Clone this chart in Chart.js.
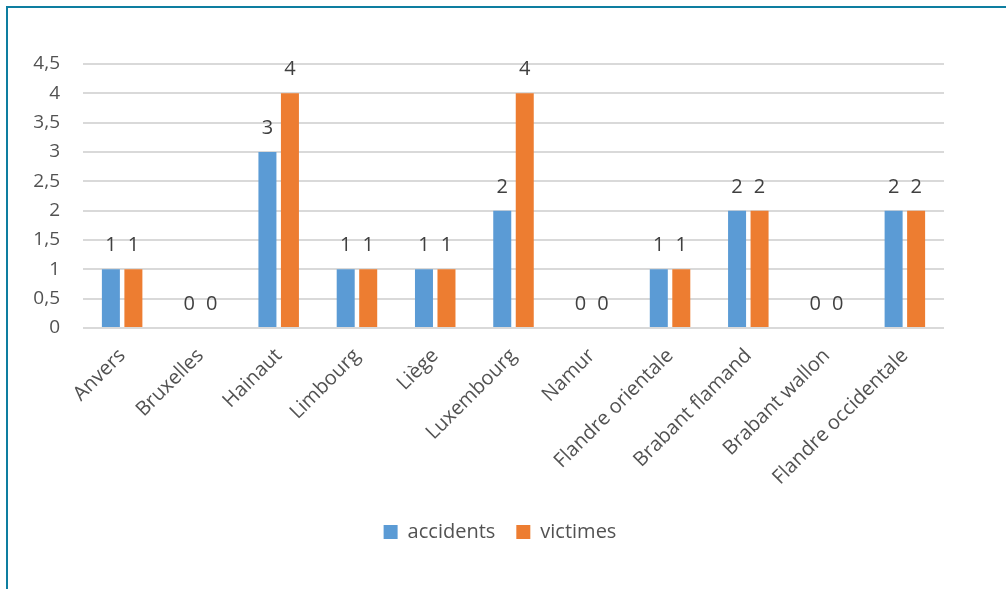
<!DOCTYPE html>
<html lang="fr">
<head>
    <meta charset="UTF-8">
    <title>Accidents et victimes par province</title>
    <script src="https://cdn.jsdelivr.net/npm/chart.js"></script>
    <style>
        body {
            margin: 0;
            background: #ffffff;
            font-family: "Open Sans", sans-serif;
        }

        .frame {
            position: absolute;
            left: 6px;
            top: 6px;
            width: 998px;
            height: 581px;
            border-left: 2px solid #0e7ea0;
            border-top: 2px solid #0e7ea0;
        }

        canvas#provinceChart {
            display: block;
        }
    </style>
</head>
<body>
    <div class="frame">
        <canvas id="provinceChart" width="998" height="581"></canvas>
    </div>

    <script>
        const provinces = ['Anvers', 'Bruxelles', 'Hainaut', 'Limbourg', 'Liège', 'Luxembourg',
            'Namur', 'Flandre orientale', 'Brabant flamand', 'Brabant wallon', 'Flandre occidentale'];
        const accidents = [1, 0, 3, 1, 1, 2, 0, 1, 2, 0, 2];
        const victimes = [1, 0, 4, 1, 1, 4, 0, 1, 2, 0, 2];

        const textColor = '#525252';

        // numbers written with a decimal comma on the value axis
        const formatValue = v => String(v).replace('.', ',');

        // value written above each bar (zero included)
        const barValues = {
            id: 'barValues',
            afterDatasetsDraw(chart) {
                const ctx = chart.ctx;
                ctx.save();
                ctx.font = '20px "Open Sans", sans-serif';
                ctx.fillStyle = '#404040';
                ctx.textAlign = 'center';
                ctx.textBaseline = 'alphabetic';
                chart.data.datasets.forEach((ds, i) => {
                    chart.getDatasetMeta(i).data.forEach((bar, j) => {
                        ctx.fillText(formatValue(ds.data[j]), bar.x, bar.y - 18);
                    });
                });
                ctx.restore();
            }
        };

        // centre the legend under the whole frame rather than the plot
        const legendShift = {
            id: 'legendShift',
            afterLayout(chart) {
                const lg = chart.legend;
                if (!lg) return;
                const dx = chart.width / 2 - 7 - (lg.left + lg.right) / 2;
                lg.left += dx;
                lg.right += dx;
            }
        };

        const ctx = document.getElementById('provinceChart').getContext('2d');
        new Chart(ctx, {
            type: 'bar',
            data: {
                labels: provinces,
                datasets: [{
                    label: 'accidents',
                    data: accidents,
                    backgroundColor: '#5b9bd5',
                    categoryPercentage: 0.575,
                    barPercentage: 0.8
                }, {
                    label: 'victimes',
                    data: victimes,
                    backgroundColor: '#ed7d31',
                    categoryPercentage: 0.575,
                    barPercentage: 0.8
                }]
            },
            options: {
                responsive: false,
                animation: false,
                layout: {
                    padding: { left: 0, right: 62, top: 56, bottom: 37 }
                },
                scales: {
                    x: {
                        grid: { display: false },
                        border: { display: false },
                        ticks: {
                            color: textColor,
                            font: { family: '"Open Sans", sans-serif', size: 20 },
                            minRotation: 45,
                            maxRotation: 45,
                            autoSkip: false,
                            padding: 8
                        },
                        afterFit: scale => { scale.height = 173; }
                    },
                    y: {
                        min: 0,
                        max: 4.5,
                        grid: {
                            color: '#d9d9d9',
                            lineWidth: 2,
                            drawTicks: false
                        },
                        border: { display: false },
                        ticks: {
                            stepSize: 0.5,
                            color: textColor,
                            padding: 23,
                            font: { family: '"Open Sans", sans-serif', size: 19 },
                            callback: v => formatValue(v)
                        },
                        afterFit: scale => { scale.width = 75; }
                    }
                },
                plugins: {
                    legend: {
                        position: 'bottom',
                        labels: {
                            color: textColor,
                            boxWidth: 14,
                            boxHeight: 14,
                            padding: 21,
                            font: { family: '"Open Sans", sans-serif', size: 20 }
                        }
                    },
                    tooltip: { enabled: false }
                }
            },
            plugins: [barValues, legendShift]
        });
    </script>
</body>
</html>
